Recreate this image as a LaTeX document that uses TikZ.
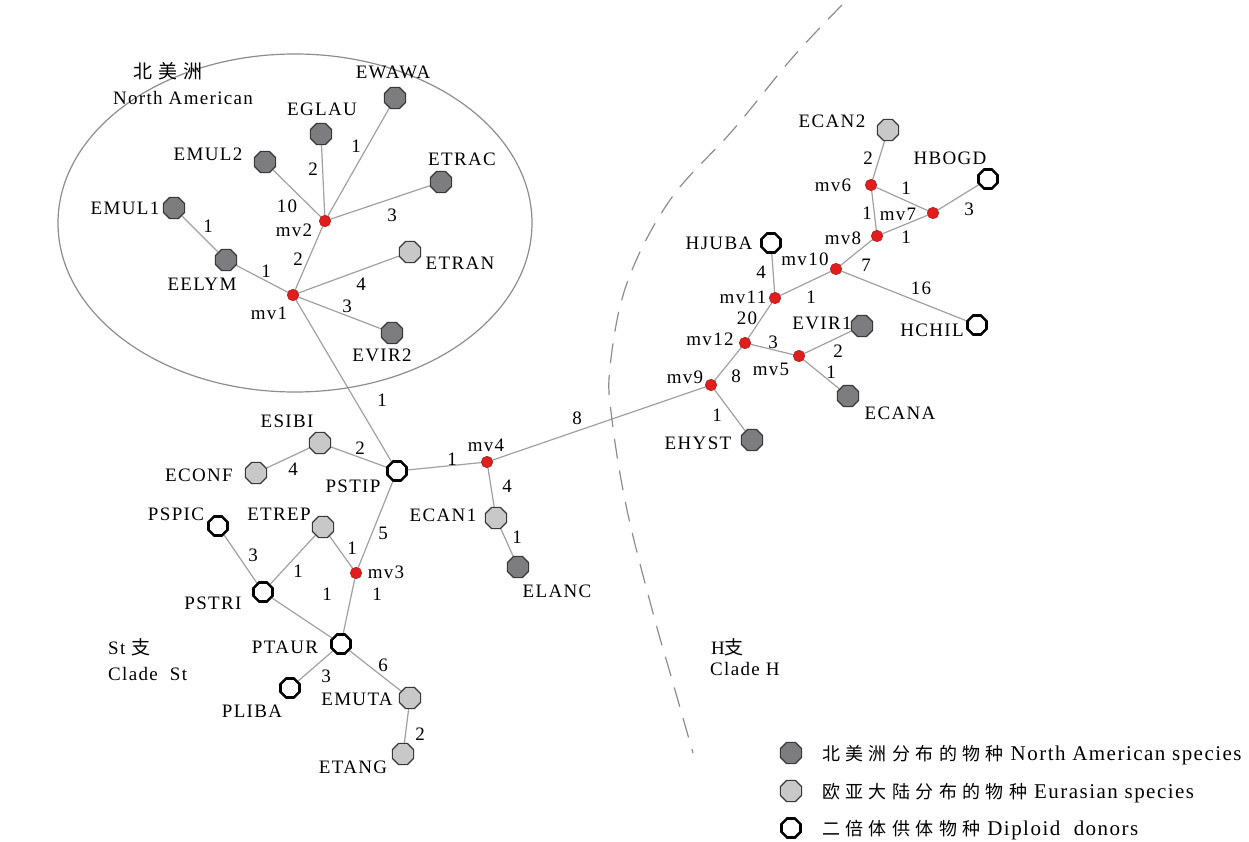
\documentclass[tikz,border=0pt]{standalone}
\usepackage{fontspec}
\setmainfont{Liberation Serif}[LetterSpace=7]
\newfontfamily\cjk{Noto Sans CJK SC}[LetterSpace=30]
\usetikzlibrary{shapes.geometric,backgrounds}

\definecolor{naFill}{RGB}{125,125,128}
\definecolor{euFill}{RGB}{200,200,200}
\definecolor{nodeEdge}{RGB}{55,55,55}
\definecolor{branch}{RGB}{160,160,160}
\definecolor{mvRed}{RGB}{225,30,30}
\definecolor{cladeLine}{RGB}{140,140,140}

\begin{document}
\begin{tikzpicture}[x=1pt,y=-1pt,
  taxon/.style={regular polygon,regular polygon sides=8,minimum size=23pt,inner sep=0pt,draw=nodeEdge,line width=1.2pt},
  na/.style={taxon,fill=naFill},
  eu/.style={taxon,fill=euFill},
  dip/.style={taxon,fill=white,draw=black,line width=2.6pt,minimum size=20.5pt},
  mv/.style={regular polygon,regular polygon sides=8,shape border rotate=22.5,minimum size=11.5pt,inner sep=0pt,fill=mvRed,draw=mvRed!70!black,line width=0.5pt},
  lab/.style={inner sep=0pt,font=\fontsize{19}{22}\selectfont,text height=13pt,text depth=0pt},
  num/.style={lab},
  legtext/.style={inner sep=0pt,anchor=west,font=\fontsize{21}{24}\selectfont,text height=14pt,text depth=0pt},
  branchline/.style={draw=branch,line width=1.2pt},
]
\useasboundingbox (0,0) rectangle (1249,842);

% North American group outline
\draw[cladeLine,line width=1.2pt] (295,223) ellipse [x radius=237pt, y radius=169pt];

% boundary between clades
\draw[cladeLine,line width=1.2pt,dash pattern=on 20pt off 12pt] plot[smooth,tension=0.6] coordinates {
  (842,5) (793,57) (733,130) (670,200) (627,283) (610,367) (612,420)
  (627,510) (653,613) (673,683) (693,753)};

% taxa
\node[na] (EWAWA) at (395,98) {};
\node[na] (EGLAU) at (321,134) {};
\node[na] (EMUL2) at (265,162) {};
\node[na] (ETRAC) at (441,182) {};
\node[na] (EMUL1) at (174,208) {};
\node[na] (EELYM) at (226,260) {};
\node[eu] (ETRAN) at (410,252) {};
\node[na] (EVIR2) at (392,333) {};
\node[dip] (PSTIP) at (397,471) {};
\node[eu] (ESIBI) at (320,443) {};
\node[eu] (ECONF) at (256,473) {};
\node[eu] (ECAN1) at (496,518) {};
\node[na] (ELANC) at (518,567) {};
\node[dip] (PSPIC) at (218,526) {};
\node[eu] (ETREP) at (323,527) {};
\node[dip] (PSTRI) at (263,592) {};
\node[dip] (PTAUR) at (341,644) {};
\node[dip] (PLIBA) at (290,688) {};
\node[eu] (EMUTA) at (410,698) {};
\node[eu] (ETANG) at (403,754) {};
\node[na] (EHYST) at (752,440) {};
\node[na] (EVIR1) at (862,326) {};
\node[na] (ECANA) at (848,396) {};
\node[dip] (HJUBA) at (771,243) {};
\node[dip] (HCHIL) at (977,325) {};
\node[dip] (HBOGD) at (988,179) {};
\node[eu] (ECAN2) at (888,130) {};

% median vectors
\node[mv] (mv1) at (293,295) {};
\node[mv] (mv2) at (325,221) {};
\node[mv] (mv3) at (356,573) {};
\node[mv] (mv4) at (487,462) {};
\node[mv] (mv5) at (799,356) {};
\node[mv] (mv6) at (871,185) {};
\node[mv] (mv7) at (933,213) {};
\node[mv] (mv8) at (877,236) {};
\node[mv] (mv9) at (711,385) {};
\node[mv] (mv10) at (836,269) {};
\node[mv] (mv11) at (775,298) {};
\node[mv] (mv12) at (745,343) {};

% branches
\begin{pgfonlayer}{background}
\draw[branchline] (EWAWA) -- (mv2);
\draw[branchline] (EGLAU) -- (mv2);
\draw[branchline] (EMUL2) -- (mv2);
\draw[branchline] (ETRAC) -- (mv2);
\draw[branchline] (mv2) -- (mv1);
\draw[branchline] (EMUL1) -- (EELYM);
\draw[branchline] (EELYM) -- (mv1);
\draw[branchline] (ETRAN) -- (mv1);
\draw[branchline] (EVIR2) -- (mv1);
\draw[branchline] (mv1) -- (PSTIP);
\draw[branchline] (ESIBI) -- (PSTIP);
\draw[branchline] (ECONF) -- (ESIBI);
\draw[branchline] (PSTIP) -- (mv4);
\draw[branchline] (mv4) -- (ECAN1);
\draw[branchline] (ECAN1) -- (ELANC);
\draw[branchline] (PSTIP) -- (mv3);
\draw[branchline] (ETREP) -- (mv3);
\draw[branchline] (PSPIC) -- (PSTRI);
\draw[branchline] (PSTRI) -- (ETREP);
\draw[branchline] (PSTRI) -- (PTAUR);
\draw[branchline] (mv3) -- (PTAUR);
\draw[branchline] (PTAUR) -- (PLIBA);
\draw[branchline] (PTAUR) -- (EMUTA);
\draw[branchline] (EMUTA) -- (ETANG);
\draw[branchline] (mv4) -- (mv9);
\draw[branchline] (mv9) -- (EHYST);
\draw[branchline] (mv9) -- (mv12);
\draw[branchline] (mv12) -- (mv5);
\draw[branchline] (mv5) -- (EVIR1);
\draw[branchline] (mv5) -- (ECANA);
\draw[branchline] (mv12) -- (mv11);
\draw[branchline] (mv11) -- (HJUBA);
\draw[branchline] (mv11) -- (mv10);
\draw[branchline] (mv10) -- (HCHIL);
\draw[branchline] (mv10) -- (mv8);
\draw[branchline] (mv8) -- (mv6);
\draw[branchline] (mv8) -- (mv7);
\draw[branchline] (mv6) -- (mv7);
\draw[branchline] (mv7) -- (HBOGD);
\draw[branchline] (mv6) -- (ECAN2);
\end{pgfonlayer}

% taxon names
\node[lab] (tEWAWA) at (393,72) {EWAWA};
\node[lab] (tEGLAU) at (322,109) {EGLAU};
\node[lab] (tEMUL2) at (208,154) {EMUL2};
\node[lab] (tETRAC) at (462,159) {ETRAC};
\node[lab] (tEMUL1) at (125,208) {EMUL1};
\node[lab] (tEELYM) at (202,284) {EELYM};
\node[lab] (tETRAN) at (460,263) {ETRAN};
\node[lab] (tEVIR2) at (382,355) {EVIR2};
\node[lab] (tmv2) at (294,230) {mv2};
\node[lab] (tmv1) at (269,313) {mv1};
\node[lab] (tESIBI) at (287,421) {ESIBI};
\node[lab] (tECONF) at (199,475) {ECONF};
\node[lab] (tPSTIP) at (353,486) {PSTIP};
\node[lab] (tmv4) at (486,445) {mv4};
\node[lab] (tECAN1) at (443,515) {ECAN1};
\node[lab] (tELANC) at (557,591) {ELANC};
\node[lab] (tPSPIC) at (176,514) {PSPIC};
\node[lab] (tETREP) at (279,514) {ETREP};
\node[lab] (tmv3) at (386,572) {mv3};
\node[lab] (tPSTRI) at (213,603) {PSTRI};
\node[lab] (tPTAUR) at (285,647) {PTAUR};
\node[lab] (tPLIBA) at (252,711) {PLIBA};
\node[lab] (tEMUTA) at (357,699) {EMUTA};
\node[lab] (tETANG) at (353,767) {ETANG};
\node[lab] (tECAN2) at (832,121) {ECAN2};
\node[lab] (tHBOGD) at (950,158) {HBOGD};
\node[lab] (tmv6) at (833,185) {mv6};
\node[lab] (tmv7) at (898,214) {mv7};
\node[lab] (tmv8) at (843,238) {mv8};
\node[lab] (tHJUBA) at (719,243) {HJUBA};
\node[lab] (tmv10) at (805,259) {mv10};
\node[lab] (tmv11) at (743,297) {mv11};
\node[lab] (tHCHIL) at (932,330) {HCHIL};
\node[lab] (tEVIR1) at (822,323) {EVIR1};
\node[lab] (tmv12) at (710,339) {mv12};
\node[lab] (tmv5) at (771,369) {mv5};
\node[lab] (tmv9) at (685,377) {mv9};
\node[lab] (tECANA) at (900,413) {ECANA};
\node[lab] (tEHYST) at (698,443) {EHYST};

% mutation counts
\node[num] (n1) at (356,146) {1};
\node[num] (n2) at (313,169) {2};
\node[num] (n3) at (392,215) {3};
\node[num] (n4) at (287,206) {10};
\node[num] (n5) at (208,226) {1};
\node[num] (n6) at (266,271) {1};
\node[num] (n7) at (298,259) {2};
\node[num] (n8) at (361,284) {4};
\node[num] (n9) at (347,306) {3};
\node[num] (n10) at (382,400) {1};
\node[num] (n11) at (360,448) {2};
\node[num] (n12) at (293,469) {4};
\node[num] (n13) at (452,459) {1};
\node[num] (n14) at (507,486) {4};
\node[num] (n15) at (517,537) {1};
\node[num] (n16) at (383,533) {5};
\node[num] (n17) at (352,548) {1};
\node[num] (n18) at (253,555) {3};
\node[num] (n19) at (298,571) {1};
\node[num] (n20) at (327,594) {1};
\node[num] (n21) at (377,594) {1};
\node[num] (n22) at (326,676) {3};
\node[num] (n23) at (383,665) {6};
\node[num] (n24) at (420,734) {2};
\node[num] (n25) at (577,418) {8};
\node[num] (n26) at (868,158) {2};
\node[num] (n27) at (906,188) {1};
\node[num] (n28) at (969,209) {3};
\node[num] (n29) at (867,213) {1};
\node[num] (n30) at (906,237) {1};
\node[num] (n31) at (866,265) {7};
\node[num] (n32) at (921,288) {16};
\node[num] (n33) at (761,272) {4};
\node[num] (n34) at (811,297) {1};
\node[num] (n35) at (747,318) {20};
\node[num] (n36) at (773,342) {3};
\node[num] (n37) at (838,351) {2};
\node[num] (n38) at (831,372) {1};
\node[num] (n39) at (736,376) {8};
\node[num] (n40) at (717,415) {1};

% group titles
\node[lab] (gNA1) at (168,72) {{\cjk 北美洲}};
\node[lab] (gNA2) at (183,98) {North American};
\node[lab,anchor=west] (gSt1) at (108,648) {St {\cjk 支}};
\node[lab,anchor=west] (gSt2) at (108,674) {Clade\ \ St};
\node[lab,anchor=west] (gH1) at (711,648) {H{\cjk 支}};
\node[lab,anchor=west] (gH2) at (710,669) {Clade H};

% key
\node[na] (k1) at (791,753) {};
\node[eu] (k2) at (791,791) {};
\node[dip] (k3) at (791,828) {};
\node[legtext] (kt1) at (822,753) {{\cjk\fontsize{18}{22}\selectfont 北美洲分布的物种} North American species};
\node[legtext] (kt2) at (822,791) {{\cjk\fontsize{18}{22}\selectfont 欧亚大陆分布的物种} Eurasian species};
\node[legtext] (kt3) at (822,828) {{\cjk\fontsize{18}{22}\selectfont 二倍体供体物种} Diploid\ \ donors};
\end{tikzpicture}
\end{document}
